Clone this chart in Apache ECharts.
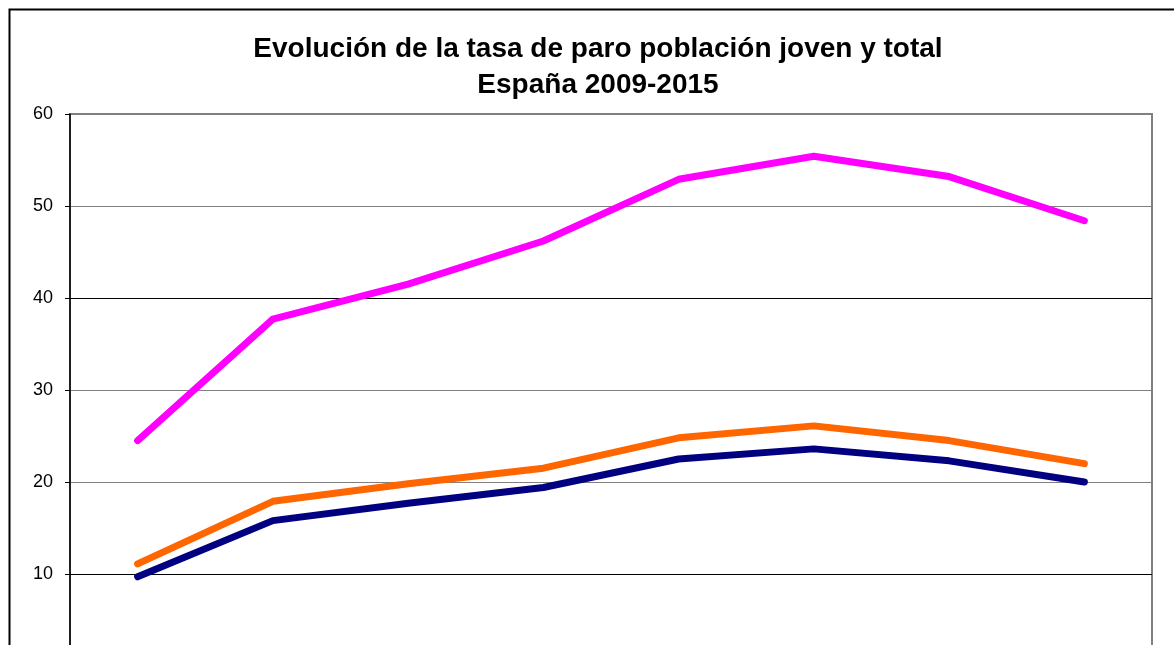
<!DOCTYPE html>
<html>
<head>
    <title>Evolución de la tasa de paro</title>
    <meta charset="utf-8">
    <script type="text/javascript" src="https://cdn.jsdelivr.net/npm/echarts@6/dist/echarts.min.js"></script>
    <style>
        body { margin: 0; background: #fff; }
    </style>
</head>
<body>
<div id="chartmain" style="width:1174px; height: 645px;"></div>
<script type="text/javascript">
// datos
var years = ['2008', '2009', '2010', '2011', '2012', '2013', '2014', '2015'];
var paroJoven = [24.5, 37.7, 41.5, 46.2, 52.9, 55.4, 53.2, 48.4];
var paroTotal = [11.1, 17.9, 19.8, 21.5, 24.8, 26.1, 24.5, 22.0];
var paroAdultos = [9.7, 15.8, 17.7, 19.4, 22.5, 23.6, 22.3, 20.0];
var yTicks = [0, 10, 20, 30, 40, 50, 60];

function linea(nombre, datos, color) {
    return {
        name: nombre,
        type: 'line',
        data: datos,
        symbol: 'none',
        animation: false,
        lineStyle: { color: color, width: 7, cap: 'round', join: 'round' },
        itemStyle: { color: color }
    };
}

var option = {
    backgroundColor: '#fff',
    textStyle: { fontFamily: 'Liberation Sans, Arial, sans-serif' },
    title: {
        text: 'Evolución de la tasa de paro población joven y total\nEspaña 2009-2015',
        left: 593,
        top: 26,
        textAlign: 'center',
        textStyle: {
            fontFamily: 'Liberation Sans, Arial, sans-serif',
            fontSize: 28,
            fontWeight: 'bold',
            color: '#000',
            lineHeight: 36
        }
    },
    graphic: [{
        type: 'rect',
        shape: { x: 9.5, y: 9.5, width: 1400, height: 1000 },
        style: { fill: 'none', stroke: '#000', lineWidth: 2 },
        silent: true
    }],
    grid: {
        left: 70,
        right: 22,
        top: 114,
        height: 552,
        outerBoundsMode: 'none',
        containLabel: false,
        show: true,
        borderColor: '#808080',
        borderWidth: 2
    },
    xAxis: {
        type: 'category',
        data: years,
        boundaryGap: true,
        axisLine: { lineStyle: { color: '#000' } },
        axisTick: { show: false },
        axisLabel: { show: false }
    },
    yAxis: {
        type: 'value',
        min: yTicks[0],
        max: yTicks[yTicks.length - 1],
        interval: 10,
        axisLine: { show: true, lineStyle: { color: '#000', width: 1.5 } },
        axisTick: { show: true, length: 5, lineStyle: { color: '#000' } },
        axisLabel: { color: '#000', fontSize: 18, margin: 17, fontFamily: 'Liberation Sans, Arial, sans-serif' },
        splitLine: { lineStyle: { color: ['#808080', '#000', '#808080'], width: 1.2 } }
    },
    series: [
        linea('Menores de 25 años', paroJoven, '#ff00ff'),
        linea('Total', paroTotal, '#ff6600'),
        linea('Mayores de 25 años', paroAdultos, '#000080')
    ]
};
var myChart = echarts.init(document.getElementById('chartmain'));
myChart.setOption(option);
</script>
</body>
</html>
